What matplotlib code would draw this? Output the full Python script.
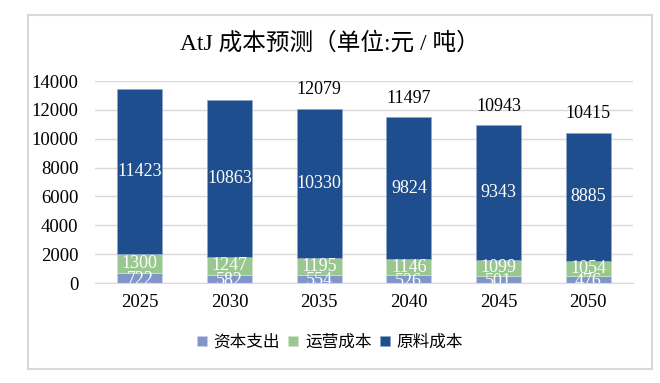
import matplotlib
matplotlib.use('Agg')
import matplotlib.pyplot as plt
import numpy as np
from matplotlib.patches import Rectangle

plt.rcParams['font.family'] = ['Liberation Serif', 'Noto Sans CJK SC']
plt.rcParams['axes.unicode_minus'] = False

years = ['2025', '2030', '2035', '2040', '2045', '2050']
capex = [722, 582, 554, 526, 501, 476]
opex = [1300, 1247, 1195, 1146, 1099, 1054]
feed = [11423, 10863, 10330, 9824, 9343, 8885]
# 总数标签（原图只显示后四个）
totals = [13445, 12692, 12079, 11497, 10943, 10415]
show_total = [False, False, True, True, True, True]
names = ['资本支出', '运营成本', '原料成本']
colors = ['#8096c8', '#9ac78f', '#1f4e8e']

fig = plt.figure(figsize=(6.6, 3.83), dpi=100)
fig.patches.append(Rectangle((28 / 660, 1 - 369 / 383), 624 / 660, 354 / 383,
                             transform=fig.transFigure, fill=False,
                             ec='#d9d9d9', lw=1.5))
ax = fig.add_axes([95 / 660, 1 - 283 / 383, 538 / 660, 202 / 383])

x = np.arange(len(years))
width = 0.5
capex = np.array(capex)
opex = np.array(opex)
feed = np.array(feed)
b1 = ax.bar(x, capex, width, color=colors[0], label=names[0], ec='#c8d0e6', lw=0.5)
b2 = ax.bar(x, opex, width, bottom=capex, color=colors[1], label=names[1], ec='#d0e6cc', lw=0.5)
b3 = ax.bar(x, feed, width, bottom=capex + opex, color=colors[2], label=names[2], ec='#8fa6c8', lw=0.5)

for i in range(len(years)):
    ax.text(x[i], capex[i] / 2 - 130, str(capex[i]), ha='center', va='center',
            color='white', fontsize=13, clip_on=True)
    ax.text(x[i], capex[i] + opex[i] / 2, str(opex[i]), ha='center', va='center',
            color='white', fontsize=13)
    ax.text(x[i], capex[i] + opex[i] + feed[i] / 2, str(feed[i]), ha='center',
            va='center', color='white', fontsize=13)
    if show_total[i]:
        ax.text(x[i], totals[i] + 1300, str(totals[i]), ha='center', va='center',
                color='black', fontsize=13)

ax.set_ylim(0, 14000)
ax.set_xlim(-0.5, len(years) - 0.5)
ax.set_yticks(np.arange(0, 14001, 2000))
ax.set_xticks(x, labels=years)
ax.grid(axis='y', color='#d9d9d9', lw=1)
ax.set_axisbelow(True)
for s in ['top', 'right', 'left']:
    ax.spines[s].set_visible(False)
ax.spines['bottom'].set_color('#d9d9d9')
ax.tick_params(axis='both', length=0, labelsize=13.5, colors='black')
ax.tick_params(axis='y', pad=12)
ax.tick_params(axis='x', pad=8)

fig.text(0.5, 1 - 43 / 383, 'AtJ 成本预测（单位:元 / 吨）', ha='center', va='center',
         fontsize=17)
fig.legend(handles=[b1, b2, b3], loc='center', bbox_to_anchor=(0.5, 1 - 343 / 383),
           ncol=3, frameon=False, fontsize=12, handlelength=0.6, handleheight=0.6,
           handletextpad=0.4, columnspacing=0.5)

fig.savefig('out.png', dpi=100)
